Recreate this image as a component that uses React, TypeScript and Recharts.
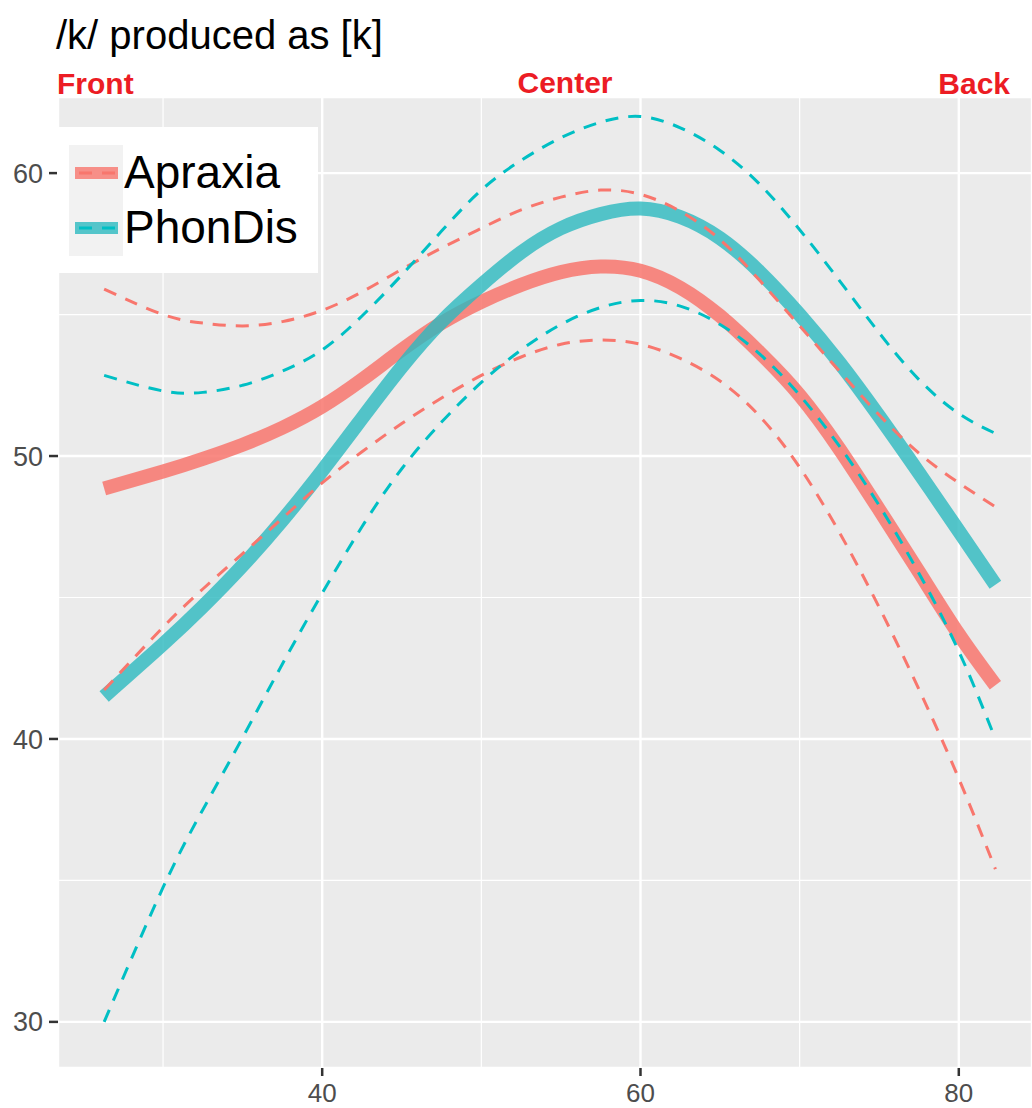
import React from 'react';
import { ComposedChart, Line, XAxis, YAxis, CartesianGrid, ReferenceLine } from 'recharts';

const title = '/k/ produced as [k]';
const regionLabels = ['Front', 'Center', 'Back'];
const seriesNames = ['Apraxia', 'PhonDis'];
const seriesColors = ['#F8766D', '#00BFC4'];
const fitColors = ['#F8766D', '#2CB9BF'];

const xs = [26.3, 30, 32.5, 35, 37.5, 40, 42.5, 45, 47.5, 50, 52.5, 55, 57.5, 60, 62.5, 65, 67.5, 70, 72.5, 75, 77.5, 80, 82.3];
const apraxiaFit = [48.85, 49.45, 49.9, 50.4, 51.0, 51.75, 52.7, 53.75, 54.7, 55.45, 56.05, 56.5, 56.7, 56.55, 55.95, 54.95, 53.65, 52.15, 50.25, 48.1, 45.9, 43.7, 41.9];
const apraxiaUpper = [55.9, 55.0, 54.7, 54.6, 54.75, 55.15, 55.8, 56.6, 57.35, 58.05, 58.7, 59.15, 59.4, 59.25, 58.65, 57.65, 56.2, 54.6, 53.0, 51.45, 50.1, 49.05, 48.2];
const apraxiaLower = [41.73, 43.95, 45.3, 46.55, 47.8, 49.05, 50.15, 51.15, 52.05, 52.85, 53.5, 53.95, 54.1, 53.95, 53.45, 52.65, 51.4, 49.6, 47.3, 44.65, 41.75, 38.6, 35.4];
const phonDisFit = [41.5, 43.35, 44.68, 46.13, 47.73, 49.48, 51.33, 53.15, 54.75, 56.05, 57.2, 58.05, 58.55, 58.75, 58.45, 57.7, 56.5, 55.0, 53.3, 51.4, 49.4, 47.35, 45.45];
const phonDisUpper = [52.85, 52.3, 52.25, 52.5, 53.0, 53.75, 54.95, 56.4, 57.95, 59.4, 60.45, 61.25, 61.8, 62.0, 61.6, 60.8, 59.6, 58.0, 56.2, 54.35, 52.7, 51.5, 50.8];
const phonDisLower = [30.0, 34.75, 37.5, 40.05, 42.65, 45.15, 47.5, 49.55, 51.2, 52.6, 53.75, 54.65, 55.25, 55.5, 55.3, 54.65, 53.6, 52.15, 50.35, 48.25, 45.85, 43.1, 40.0];

const xTicks = [40, 60, 80];
const yTicks = [30, 40, 50, 60];
const xMinor = [30, 50, 70];
const yMinor = [35, 45, 55];
const xDomain = [23.4, 84.6];
const yDomain = [28.37, 62.69];

const data = xs.map((x, i) => ({
  x,
  aFit: apraxiaFit[i],
  aHi: apraxiaUpper[i],
  aLo: apraxiaLower[i],
  pFit: phonDisFit[i],
  pHi: phonDisUpper[i],
  pLo: phonDisLower[i],
}));

const FONT = '"Liberation Sans", Arial, Helvetica, sans-serif';
const W = 1032;
const H = 1108;

function LegendBox() {
  return (
    <div style={{ position: 'absolute', left: 57, top: 127, width: 261, height: 146, background: '#fff' }}>
      <div style={{ position: 'absolute', left: 12, top: 18, width: 54, height: 111, background: '#F2F2F2' }} />
      {seriesNames.map((name, i) => (
        <div key={name} style={{ position: 'absolute', left: 0, top: 18 + i * 55, height: 56, width: 261 }}>
          <svg width={70} height={56} style={{ position: 'absolute', left: 0, top: 0 }}>
            <line x1={18} x2={61} y1={28} y2={28} stroke={fitColors[i]} strokeWidth={12} strokeOpacity={0.8} />
            <line x1={18} x2={61} y1={28} y2={28} stroke={seriesColors[i]} strokeWidth={3} strokeDasharray="13 10" strokeDashoffset={-4} />
          </svg>
          <div style={{ position: 'absolute', left: 67, top: 3, fontFamily: FONT, fontSize: 46, lineHeight: '48px', color: '#000' }}>{name}</div>
        </div>
      ))}
    </div>
  );
}

export default function App() {
  return (
    <div style={{ position: 'absolute', left: 0, top: 0, width: W, height: H, background: '#fff', overflow: 'hidden' }}>
      <div style={{ position: 'absolute', left: 0, top: 0 }}>
        <ComposedChart width={W} height={H} data={data} margin={{ top: 97, right: 0, bottom: 0, left: 0 }}>
          <CartesianGrid fill="#EBEBEB" stroke="#FFFFFF" strokeWidth={2.4} />
          {xMinor.map((v) => (
            <ReferenceLine key={'xm' + v} x={v} stroke="#FFFFFF" strokeWidth={1.2} />
          ))}
          {yMinor.map((v) => (
            <ReferenceLine key={'ym' + v} y={v} stroke="#FFFFFF" strokeWidth={1.2} />
          ))}
          <XAxis
            type="number"
            dataKey="x"
            domain={xDomain}
            ticks={xTicks}
            allowDataOverflow
            axisLine={false}
            tickSize={8}
            tickMargin={8}
            tickLine={{ stroke: '#333333', strokeWidth: 2.5 }}
            tick={{ fill: '#4D4D4D', fontSize: 26, fontFamily: FONT }}
            height={40}
          />
          <YAxis
            type="number"
            domain={yDomain}
            ticks={yTicks}
            allowDataOverflow
            axisLine={false}
            tickSize={9}
            tickMargin={6}
            tickLine={{ stroke: '#333333', strokeWidth: 2.5 }}
            tick={{ fill: '#4D4D4D', fontSize: 27, fontFamily: FONT }}
            width={58}
          />
          <Line type="natural" dataKey="aFit" stroke={fitColors[0]} strokeOpacity={0.85} strokeWidth={14} dot={false} isAnimationActive={false} />
          <Line type="natural" dataKey="pFit" stroke={fitColors[1]} strokeOpacity={0.8} strokeWidth={14} dot={false} isAnimationActive={false} />
          <Line type="natural" dataKey="aHi" stroke={seriesColors[0]} strokeWidth={3} strokeDasharray="13 10" dot={false} isAnimationActive={false} />
          <Line type="natural" dataKey="aLo" stroke={seriesColors[0]} strokeWidth={3} strokeDasharray="13 10" dot={false} isAnimationActive={false} />
          <Line type="natural" dataKey="pHi" stroke={seriesColors[1]} strokeWidth={3} strokeDasharray="13 10" dot={false} isAnimationActive={false} />
          <Line type="natural" dataKey="pLo" stroke={seriesColors[1]} strokeWidth={3} strokeDasharray="13 10" dot={false} isAnimationActive={false} />
        </ComposedChart>
      </div>
      <svg width={W} height={112} style={{ position: 'absolute', left: 0, top: 0, pointerEvents: 'none' }}>
        <text x={56} y={49} fontFamily={FONT} fontSize={40} fill="#000">{title}</text>
        <text x={57} y={94} fontFamily={FONT} fontSize={30} fontWeight="bold" fill="#EC1C24" textAnchor="start">{regionLabels[0]}</text>
        <text x={565} y={93} fontFamily={FONT} fontSize={30} fontWeight="bold" fill="#EC1C24" textAnchor="middle">{regionLabels[1]}</text>
        <text x={1010} y={94} fontFamily={FONT} fontSize={30} fontWeight="bold" fill="#EC1C24" textAnchor="end">{regionLabels[2]}</text>
      </svg>
      <LegendBox />
    </div>
  );
}
